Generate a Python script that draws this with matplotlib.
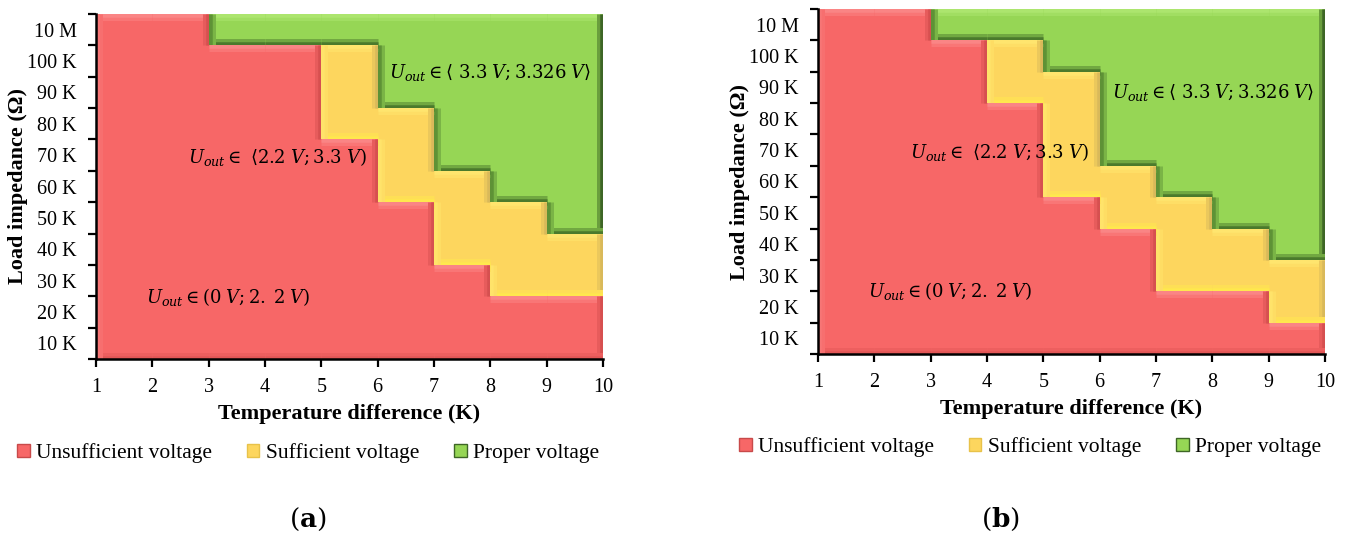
import matplotlib
matplotlib.use("Agg")
import matplotlib.pyplot as plt
from matplotlib.patches import Polygon, Patch
from matplotlib.colors import to_rgb

plt.rcParams["font.family"] = ["Liberation Serif", "DejaVu Serif"]
plt.rcParams["mathtext.fontset"] = "dejavuserif"

# temperature difference (K) and load impedance classes
temp_diff = [1, 2, 3, 4, 5, 6, 7, 8, 9, 10]
impedance_labels = ["10 K", "20 K", "30 K", "40 K", "50 K", "60 K",
                    "70 K", "80 K", "90 K", "100 K", "10 M"]

# zone borders (impedance class index) for every 1 K step
red_top_a = [11, 11, 10, 10, 7, 5, 3, 2, 2]
green_bottom_a = [11, 11, 10, 10, 10, 8, 6, 5, 4]
red_top_b = [11, 11, 10, 8, 5, 4, 2, 2, 1]
green_bottom_b = [11, 11, 10, 10, 9, 6, 5, 4, 3]

legend_labels = ["Unsufficient voltage", "Sufficient voltage", "Proper voltage"]

zone_face = {"red": "#F76767", "yellow": "#FDD65E", "green": "#96D655"}
zone_edges = {
    "red": {"top": "#FA8585", "left": "#F77676", "bottom": "#E25656", "right": "#D65050"},
    "yellow": {"top": "#FFE56E", "left": "#FFE36A", "bottom": "#FFE84E", "right": "#D9B95A"},
    "green": {"top": "#ACE56E", "left": "#5E9236", "bottom": "#4B7A2C", "right": "#3E6626"},
}
legend_edge = {"red": "#C84A4A", "yellow": "#E8C24A", "green": "#3E6626"}


def mix(c1, c2, t):
    a, b = to_rgb(c1), to_rgb(c2)
    return tuple(a[i] * t + b[i] * (1 - t) for i in range(3))


def zone_outline(x, lo, hi):
    keep = [k for k in range(len(lo)) if hi[k] > lo[k]]
    k0, k1 = keep[0], keep[-1]
    pts = []
    for k in range(k0, k1 + 1):
        pts += [(x[k], hi[k]), (x[k + 1], hi[k])]
    for k in range(k1, k0 - 1, -1):
        pts += [(x[k + 1], lo[k]), (x[k], lo[k])]
    clean = [pts[0]]
    for p in pts[1:]:
        if p != clean[-1]:
            clean.append(p)
    if clean[-1] == clean[0]:
        clean.pop()
    return clean


def draw_zone(ax, verts, name, bevel=6.5):
    face = zone_face[name]
    patch = Polygon(verts, closed=True, facecolor=face, edgecolor="none", zorder=1)
    ax.add_patch(patch)
    n = len(verts)
    for i in range(n):
        (x0, y0), (x1, y1) = verts[i], verts[(i + 1) % n]
        if x1 > x0:
            side = "top"
        elif x1 < x0:
            side = "bottom"
        elif y1 < y0:
            side = "right"
        else:
            side = "left"
        col = zone_edges[name][side]
        # soft bevel: wide half-tone band, then a narrow full-tone band
        for lw, c in ((2 * bevel, mix(col, face, 0.5)), (bevel, col)):
            ln, = ax.plot([x0, x1], [y0, y1], color=c, lw=lw * 0.72,
                          solid_capstyle="butt", zorder=1.2)
            ln.set_clip_path(patch)


def draw_panel(ax, red_top, green_bottom, label_pos):
    n = len(red_top)
    floor = [0] * n
    ceil = [len(impedance_labels)] * n
    draw_zone(ax, zone_outline(temp_diff, floor, red_top), "red")
    draw_zone(ax, zone_outline(temp_diff, red_top, green_bottom), "yellow")
    draw_zone(ax, zone_outline(temp_diff, green_bottom, ceil), "green")

    ax.set_xlim(temp_diff[0], temp_diff[-1])
    ax.set_ylim(0, len(impedance_labels))
    ax.set_xticks(temp_diff)
    ax.set_yticks(range(len(impedance_labels) + 1))
    ax.set_yticklabels([])
    ax.set_yticks([i + 0.5 for i in range(len(impedance_labels))], minor=True)
    ax.set_yticklabels(impedance_labels, minor=True)
    ax.tick_params(axis="y", which="major", length=6, width=1.6, direction="out")
    ax.tick_params(axis="y", which="minor", length=0, pad=14, labelsize=14.5)
    ax.tick_params(axis="x", length=6, width=1.6, direction="out", pad=8, labelsize=14.5)
    for s in ("top", "right"):
        ax.spines[s].set_visible(False)
    for s in ("left", "bottom"):
        ax.spines[s].set_linewidth(1.8)
        ax.spines[s].set_zorder(5)

    ax.set_xlabel("Temperature difference (K)", fontsize=16, fontweight="bold")
    ax.xaxis.set_label_coords(0.5, -0.16)
    ax.xaxis.label.set_va("center")
    ax.set_ylabel("Load impedance (\u03a9)", fontsize=16, fontweight="bold")
    ax.yaxis.set_label_coords(-0.153, 0.5)
    ax.yaxis.label.set_va("center")

    texts = [r"$U_{out} \in (0\;V; 2.\;2\;V)$",
             r"$U_{out} \in\ \langle 2.2\;V; 3.3\;V)$",
             r"$U_{out} \in \langle\ 3.3\;V; 3.326\;V\rangle$"]
    for (tx, ty), t in zip(label_pos, texts):
        ax.text(tx, ty, t, fontsize=13, ha="center", va="center", zorder=6)


fig = plt.figure(figsize=(13.49, 5.35), dpi=100, facecolor="white")
ax_a = fig.add_axes([96 / 1349, 1 - 359 / 535, 507 / 1349, 345 / 535])
ax_b = fig.add_axes([818 / 1349, 1 - 354 / 535, 507 / 1349, 345 / 535])

draw_panel(ax_a, red_top_a, green_bottom_a, [(3.35, 1.98), (4.21, 6.44), (7.99, 9.12)])
draw_panel(ax_b, red_top_b, green_bottom_b, [(3.34, 2.01), (4.21, 6.45), (8.01, 8.33)])

handles = [Patch(facecolor=zone_face[k], edgecolor=legend_edge[k], linewidth=1)
           for k in ("red", "yellow", "green")]
for cx, cy in ((308, 453), (1030, 447)):
    fig.legend(handles, legend_labels, loc="center", ncol=3, frameon=False,
               bbox_to_anchor=(cx / 1349, 1 - cy / 535), fontsize=15.5,
               handlelength=0.6, handleheight=0.6, handletextpad=0.3,
               columnspacing=1.6)

fig.text(308 / 1349, 1 - 519 / 535, r"$(\mathbf{a})$", fontsize=19, ha="center", va="center")
fig.text(1000 / 1349, 1 - 519 / 535, r"$(\mathbf{b})$", fontsize=19, ha="center", va="center")

fig.savefig("out.png", dpi=100, facecolor="white")
